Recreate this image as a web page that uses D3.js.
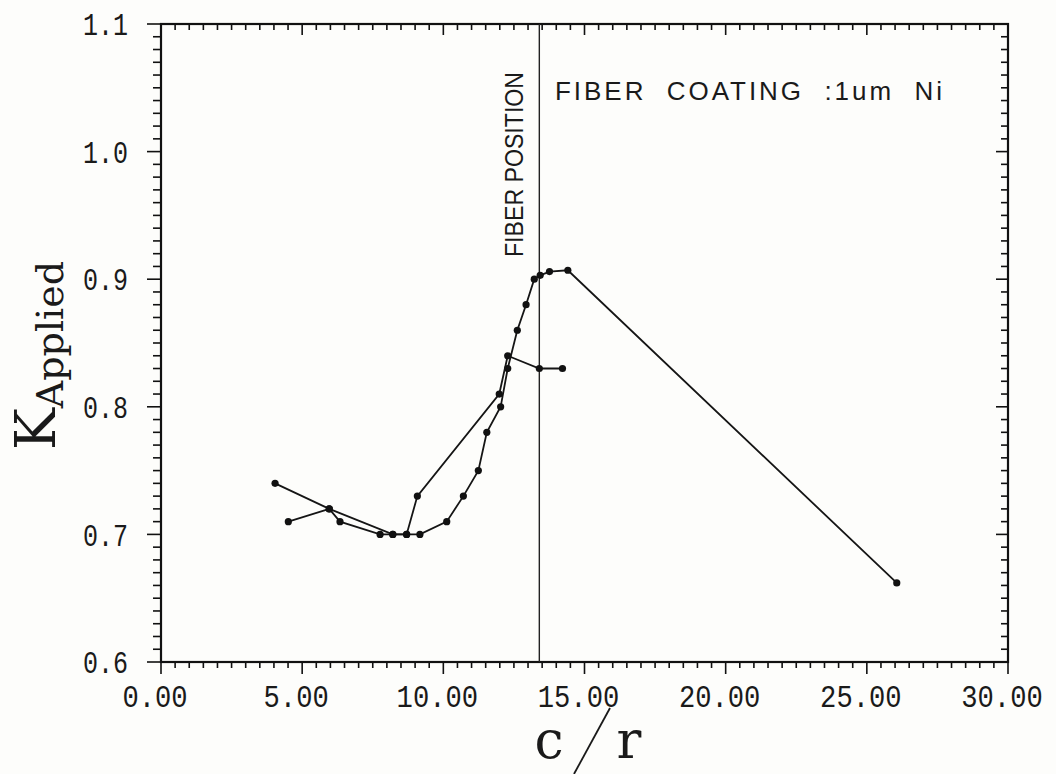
<!DOCTYPE html>
<html>
<head>
<meta charset="utf-8">
<script src="https://cdn.jsdelivr.net/npm/d3@7"></script>
<style>
  body { margin: 0; background: #fdfdfb; }
  svg { display: block; }
</style>
</head>
<body>
<div id="chart"></div>
<script>
// values
var xTicks = [0, 5, 10, 15, 20, 25, 30];
var yTicks = [0.6, 0.7, 0.8, 0.9, 1.0, 1.1];

var curveAx = [4.51, 5.96, 6.34, 7.76, 8.21, 8.70, 9.17, 10.12, 10.71, 11.24, 11.54, 12.03, 12.28, 12.62, 12.93, 13.22, 13.43, 13.76, 14.41, 26.06];
var curveAy = [0.71, 0.72, 0.71, 0.70, 0.70, 0.70, 0.70, 0.71, 0.73, 0.75, 0.78, 0.80, 0.83, 0.86, 0.88, 0.90, 0.903, 0.906, 0.907, 0.662];

var curveBx = [4.04, 5.96, 8.21, 8.70, 9.08, 11.98, 12.28, 13.40, 14.22];
var curveBy = [0.74, 0.72, 0.70, 0.70, 0.73, 0.81, 0.84, 0.83, 0.83];

var fiberPosition = 13.4;

var width = 1056;
var height = 774;
var margin = {top: 24, bottom: 112, left: 161, right: 48};

var svg = d3.select("#chart")
    .append("svg")
    .attr("width", width)
    .attr("height", height);

var xScale = d3.scaleLinear()
    .domain([0, 30])
    .range([margin.left, width - margin.right]);

var yScale = d3.scaleLinear()
    .domain([0.6, 1.1])
    .range([height - margin.bottom, margin.top]);

var x0 = xScale.range()[0], x1 = xScale.range()[1];
var y0 = yScale.range()[0], y1 = yScale.range()[1];

// minor tick values
var xMinor = d3.range(0, 30.001, 0.5);
var yMinor = d3.range(0.6, 1.1001, 0.01);
function isMajorX(v) { return Math.abs(v / 5 - Math.round(v / 5)) < 1e-6; }
function isMajorY(v) { return Math.abs(v * 10 - Math.round(v * 10)) < 1e-6; }

var ticks = svg.append("g")
    .attr("stroke", "#111")
    .attr("stroke-width", 1.6);

// bottom: ticks hang below the axis
ticks.selectAll(".xb")
    .data(xMinor)
    .enter()
    .append("line")
    .attr("x1", function(d) { return xScale(d); })
    .attr("x2", function(d) { return xScale(d); })
    .attr("y1", y0)
    .attr("y2", function(d) { return y0 + (isMajorX(d) ? 12 : 6); });

// top: ticks hang into the plot
ticks.selectAll(".xt")
    .data(xMinor)
    .enter()
    .append("line")
    .attr("x1", function(d) { return xScale(d); })
    .attr("x2", function(d) { return xScale(d); })
    .attr("y1", y1)
    .attr("y2", function(d) { return y1 + (isMajorX(d) ? 11 : 6); });

// left: ticks point outward
ticks.selectAll(".yl")
    .data(yMinor)
    .enter()
    .append("line")
    .attr("y1", function(d) { return yScale(d); })
    .attr("y2", function(d) { return yScale(d); })
    .attr("x1", x0)
    .attr("x2", function(d) { return x0 - (isMajorY(d) ? 14 : 8); });

// right: ticks point into the plot
ticks.selectAll(".yr")
    .data(yMinor)
    .enter()
    .append("line")
    .attr("y1", function(d) { return yScale(d); })
    .attr("y2", function(d) { return yScale(d); })
    .attr("x1", x1)
    .attr("x2", function(d) { return x1 - (isMajorY(d) ? 12 : 7); });

// frame
svg.append("rect")
    .attr("x", x0)
    .attr("y", y1)
    .attr("width", x1 - x0)
    .attr("height", y0 - y1)
    .attr("fill", "none")
    .attr("stroke", "#111")
    .attr("stroke-width", 2.2);

// tick labels (plotter mono font, ~16px per char, sitting a bit left of the tick)
var fmtX = d3.format(".2f");
var fmtY = d3.format(".1f");

svg.selectAll(".xlab")
    .data(xTicks)
    .enter()
    .append("text")
    .attr("x", function(d) { return xScale(d) - 6; })
    .attr("y", 707)
    .attr("text-anchor", "middle")
    .attr("font-family", "'Liberation Mono', 'DejaVu Sans Mono', monospace")
    .attr("font-size", 31)
    .attr("textLength", function(d) { return fmtX(d).length * 16.3; })
    .attr("lengthAdjust", "spacingAndGlyphs")
    .attr("fill", "#1a1a1a")
    .text(function(d) { return fmtX(d); });

svg.selectAll(".ylab")
    .data(yTicks)
    .enter()
    .append("text")
    .attr("x", 128)
    .attr("y", function(d) { return yScale(d); })
    .attr("dy", "0.36em")
    .attr("text-anchor", "end")
    .attr("font-family", "'Liberation Mono', 'DejaVu Sans Mono', monospace")
    .attr("font-size", 31)
    .attr("textLength", 45)
    .attr("lengthAdjust", "spacingAndGlyphs")
    .attr("fill", "#1a1a1a")
    .text(function(d) { return fmtY(d); });

// fiber position line
svg.append("line")
    .attr("x1", xScale(fiberPosition))
    .attr("x2", xScale(fiberPosition))
    .attr("y1", y1)
    .attr("y2", y0)
    .attr("stroke", "#222")
    .attr("stroke-width", 1.4);

svg.append("text")
    .attr("transform", "translate(523,72) rotate(-90)")
    .attr("text-anchor", "end")
    .attr("font-family", "'Liberation Sans', 'DejaVu Sans', sans-serif")
    .attr("font-size", 26)
    .attr("textLength", 185)
    .attr("lengthAdjust", "spacingAndGlyphs")
    .attr("fill", "#1a1a1a")
    .text("FIBER POSITION");

svg.append("text")
    .attr("x", 555)
    .attr("y", 100)
    .attr("font-family", "'Liberation Sans', 'DejaVu Sans', sans-serif")
    .attr("font-size", 26)
    .attr("textLength", 387)
    .attr("lengthAdjust", "spacing")
    .attr("fill", "#1a1a1a")
    .style("white-space", "pre")
    .text("FIBER  COATING  :1um  Ni");

// curves
var curveA = curveAx.map(function(d, i) { return {x: d, y: curveAy[i]}; });
var curveB = curveBx.map(function(d, i) { return {x: d, y: curveBy[i]}; });

var line = d3.line()
    .x(function(d) { return xScale(d.x); })
    .y(function(d) { return yScale(d.y); });

[curveA, curveB].forEach(function(curve) {
    svg.append("path")
        .datum(curve)
        .attr("d", line)
        .attr("fill", "none")
        .attr("stroke", "#151515")
        .attr("stroke-width", 1.8);

    svg.selectAll(null)
        .data(curve)
        .enter()
        .append("circle")
        .attr("cx", function(d) { return xScale(d.x); })
        .attr("cy", function(d) { return yScale(d.y); })
        .attr("r", 3.6)
        .attr("fill", "#111");
});

// axis titles
var ytitle = svg.append("text")
    .attr("transform", "translate(55,450) rotate(-90)")
    .attr("font-family", "'DejaVu Serif', 'Liberation Serif', serif")
    .attr("fill", "#1a1a1a");
ytitle.append("tspan")
    .attr("font-size", 56)
    .text("K");
ytitle.append("tspan")
    .attr("font-size", 38)
    .attr("dy", 8)
    .text("Applied");

svg.append("text")
    .attr("x", 549)
    .attr("y", 758)
    .attr("text-anchor", "middle")
    .attr("font-family", "'DejaVu Serif', 'Liberation Serif', serif")
    .attr("font-size", 52)
    .attr("fill", "#1a1a1a")
    .text("c");

svg.append("text")
    .attr("x", 629)
    .attr("y", 758)
    .attr("text-anchor", "middle")
    .attr("font-family", "'DejaVu Serif', 'Liberation Serif', serif")
    .attr("font-size", 52)
    .attr("fill", "#1a1a1a")
    .text("r");

svg.append("line")
    .attr("x1", 610)
    .attr("y1", 708)
    .attr("x2", 574)
    .attr("y2", 774)
    .attr("stroke", "#1a1a1a")
    .attr("stroke-width", 1.8);
</script>
</body>
</html>
